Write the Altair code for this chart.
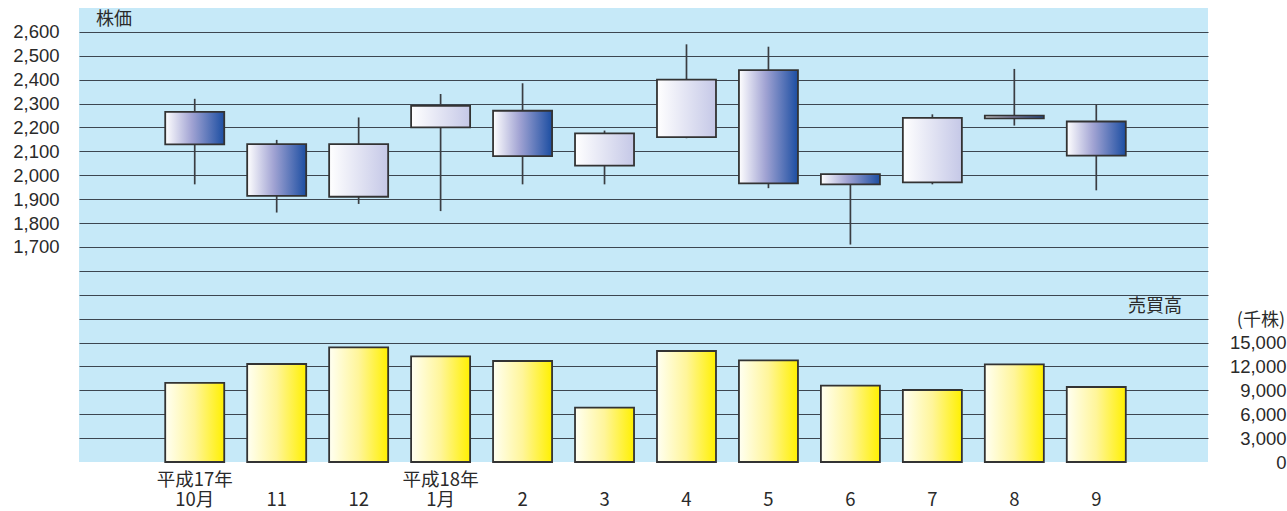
import altair as alt
import pandas as pd

# ---- data ----
months = ["10月", "11", "12", "1月", "2", "3", "4", "5", "6", "7", "8", "9"]
year_labels = ["平成17年", "", "", "平成18年", "", "", "", "", "", "", "", ""]
open_ = [2265, 2130, 1910, 2200, 2270, 2040, 2160, 2440, 2005, 1970, 2250, 2225]
high = [2320, 2148, 2242, 2340, 2385, 2187, 2548, 2538, 2005, 2255, 2445, 2296]
low = [1962, 1844, 1880, 1850, 1962, 1962, 2155, 1946, 1710, 1962, 2208, 1937]
close = [2129, 1914, 2130, 2290, 2080, 2175, 2400, 1966, 1962, 2240, 2238, 2082]
volume = [9900, 12250, 14325, 13210, 12625, 6800, 13875, 12710, 9540, 9000, 12210, 9375]

price_grid = list(range(900, 2700, 100))
volume_ticks = [0, 3000, 6000, 9000, 12000, 15000]

df = pd.DataFrame({
    "idx": list(range(len(months))),
    "month": months,
    "year": year_labels,
    "open": open_,
    "high": high,
    "low": low,
    "close": close,
    "volume": volume,
})

W, H = 1129, 454
NUM_FONT = "Liberation Sans"
JP_FONT = "Noto Sans CJK JP"
TXT = "#2a2a2a"
EDGE = "#333333"

xscale = alt.Scale(domain=[-1.412, 12.363], nice=False, zero=False, padding=0)
X = alt.X("idx:Q", scale=xscale, axis=None)
X0 = alt.X("x0:Q", scale=xscale, axis=None)

base = alt.Chart(df).transform_calculate(
    x0="datum.idx - 0.36", x1="datum.idx + 0.36", zero="0"
)

price_scale = alt.Scale(domain=[800, 2700], nice=False, zero=False, padding=0)
vol_scale = alt.Scale(domain=[0, 56750], nice=False, zero=False, padding=0)

price_axis = alt.Axis(
    values=price_grid, grid=True, gridColor="#3c4650", gridWidth=1.2,
    domain=False, ticks=False, tickSize=0, labelPadding=20,
    labelOverlap=False,
    labelExpr="datum.value >= 1700 ? format(datum.value, ',') : ''",
    labelFont=NUM_FONT, labelFontSize=18.5, labelColor=TXT, title=None,
    orient="left")

vol_axis = alt.Axis(
    values=volume_ticks, grid=False, domain=False, ticks=False, tickSize=0,
    labelAlign="right", labelPadding=78, labelOverlap=False,
    labelExpr="format(datum.value, ',')",
    labelFont=NUM_FONT, labelFontSize=18.5, labelColor=TXT, title=None,
    orient="right")

bear_grad = alt.Gradient(
    gradient="linear", x1=0, x2=1, y1=0, y2=0,
    stops=[alt.GradientStop(color="#ffffff", offset=0),
           alt.GradientStop(color="#a1a3d3", offset=0.45),
           alt.GradientStop(color="#1c4ea2", offset=1)],
)
bull_grad = alt.Gradient(
    gradient="linear", x1=0, x2=1, y1=0, y2=0,
    stops=[alt.GradientStop(color="#ffffff", offset=0),
           alt.GradientStop(color="#c5c8e7", offset=1)],
)
vol_grad = alt.Gradient(
    gradient="linear", x1=0, x2=1, y1=0, y2=0,
    stops=[alt.GradientStop(color="#fffff2", offset=0),
           alt.GradientStop(color="#fff59a", offset=0.5),
           alt.GradientStop(color="#fff000", offset=1)],
)

wick = base.mark_rule(color="#3a3d42", strokeWidth=1.7).encode(
    x=X,
    y=alt.Y("low:Q", scale=price_scale, axis=price_axis),
    y2="high:Q",
)

bear = base.transform_filter("datum.close < datum.open").mark_bar(
    fill=bear_grad, stroke=EDGE, strokeWidth=1.8, orient="vertical"
).encode(x=X0, x2="x1:Q",
         y=alt.Y("open:Q", scale=price_scale, axis=price_axis), y2="close:Q")

bull = base.transform_filter("datum.close >= datum.open").mark_bar(
    fill=bull_grad, stroke=EDGE, strokeWidth=1.8, orient="vertical"
).encode(x=X0, x2="x1:Q",
         y=alt.Y("open:Q", scale=price_scale, axis=price_axis), y2="close:Q")

price_title = alt.Chart(pd.DataFrame({"t": ["株価"]})).mark_text(
    font=JP_FONT, fontSize=18, color=TXT, align="left", baseline="middle"
).encode(x=alt.value(17), y=alt.value(12), text="t:N")

price_layer = alt.layer(wick, bear, bull, price_title)

vol_bars = base.mark_bar(
    fill=vol_grad, stroke=EDGE, strokeWidth=1.8, orient="vertical"
).encode(
    x=X0, x2="x1:Q",
    y=alt.Y("volume:Q", scale=vol_scale, axis=vol_axis),
    y2="zero:Q",
)

vol_title = alt.Chart(pd.DataFrame({"t": ["売買高"]})).mark_text(
    font=JP_FONT, fontSize=18, color=TXT, align="left", baseline="middle"
).encode(x=alt.value(1049), y=alt.value(299), text="t:N")

unit_title = alt.Chart(pd.DataFrame({"t": ["(千株)"]})).mark_text(
    font=JP_FONT, fontSize=18, color=TXT, align="right", baseline="middle"
).encode(x=alt.value(1206), y=alt.value(313), text="t:N")

vol_layer = alt.layer(vol_bars, vol_title, unit_title)

year_text = base.mark_text(
    font=JP_FONT, fontSize=18.5, color=TXT, align="center", baseline="middle"
).encode(x=X, y=alt.value(472), text="year:N")

month_text = base.mark_text(
    font=JP_FONT, fontSize=18.5, color=TXT, align="center", baseline="middle"
).encode(x=X, y=alt.value(492), text="month:N")

chart = alt.layer(price_layer, vol_layer, year_text, month_text).resolve_scale(
    y="independent"
).properties(
    width=W, height=H,
    padding={"left": 79, "top": 8, "right": 79, "bottom": 49},
    autosize=alt.AutoSizeParams(type="none"),
    background="white",
).configure_view(fill="#c6e9f8", stroke=None)

chart.save("out.html", embed_options={"renderer": "svg", "actions": False})
